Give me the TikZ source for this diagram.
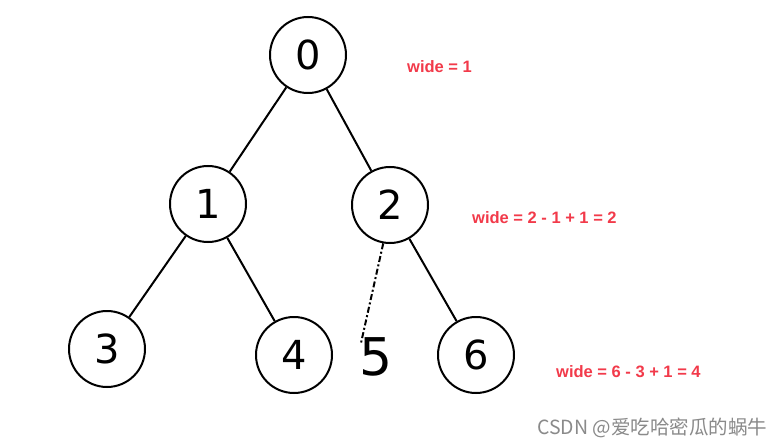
\documentclass[tikz,border=0pt]{standalone}
\usepackage{fontspec}
\setmainfont{Liberation Sans}
\newfontfamily\cjk{Noto Sans CJK SC}
\newfontfamily\digitfont{DejaVu Sans}[Scale=1]
\definecolor{lblred}{HTML}{F23A4A}
\definecolor{wmgray}{HTML}{8A8A8A}
\begin{document}
\begin{tikzpicture}[x=1pt,y=-1pt,
  tnode/.style={circle,draw=black,line width=2pt,minimum size=76pt,inner sep=0pt,
    font=\digitfont\fontsize{40}{40}\selectfont},
  edge/.style={line width=2pt},
  hint/.style={line width=2pt,dash pattern=on 6pt off 2.5pt on 2pt off 2.5pt},
  lbl/.style={text=lblred,font=\bfseries\fontsize{16.5}{16.5}\selectfont,anchor=west,inner sep=0pt},
  wm/.style={text=wmgray,font=\cjk\fontsize{19.5}{19.5}\selectfont,anchor=west,inner sep=0pt}]
\useasboundingbox (0,0) rectangle (783,446);
\fill[white] (0,0) rectangle (783,446);
\node[tnode] (n0) at (308,55) {0};
\node[tnode] (n1) at (208,204) {1};
\node[tnode] (n2) at (390,205) {2};
\node[tnode] (n3) at (107,349) {3};
\node[tnode] (n4) at (294,355) {4};
\node[tnode] (n6) at (476,355) {6};
\node[font=\digitfont\fontsize{52}{52}\selectfont,inner sep=0pt] (n5) at (376,357) {5};
\coordinate (c5) at (361,343);
\draw[edge] (n0) -- (n1);
\draw[edge] (n0) -- (n2);
\draw[edge] (n1) -- (n3);
\draw[edge] (n1) -- (n4);
\draw[edge] (n2) -- (n6);
\draw[hint] (n2.260) -- (c5);
\node[lbl] (w1) at (407,67) {wide = 1};
\node[lbl] (w2) at (472,218) {wide = 2 - 1 + 1 = 2};
\node[lbl] (w3) at (556,372) {wide = 6 - 3 + 1 = 4};
\node[wm] (wmk) at (537,428) {CSDN @爱吃哈密瓜的蜗牛};
\end{tikzpicture}
\end{document}
